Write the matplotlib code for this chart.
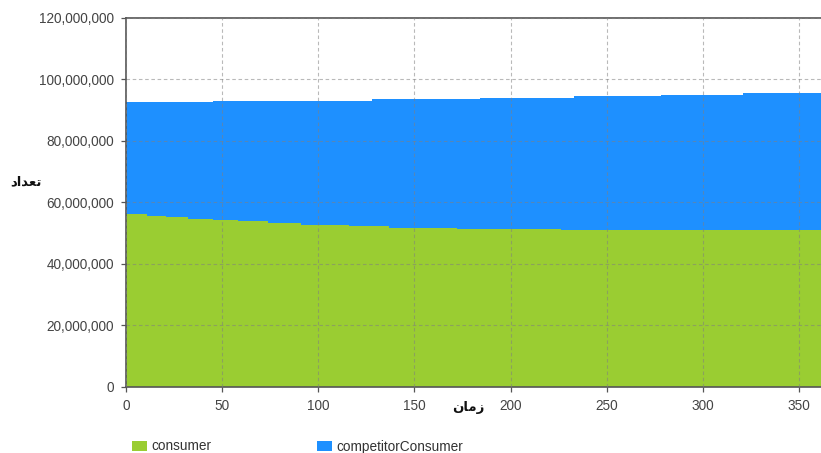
import matplotlib
matplotlib.use('Agg')
import matplotlib.pyplot as plt
from matplotlib.patches import Patch
from matplotlib.ticker import FuncFormatter, MultipleLocator

# ---- data ----
time = [0, 11, 21, 32, 45, 58, 74, 91, 116, 128, 137, 172, 184, 226, 233, 278, 321, 362]
consumer_m = [56.16, 55.61, 55.06, 54.54, 54.08, 53.76, 53.24, 52.68, 52.13, 52.13,
              51.71, 51.28, 51.28, 50.89, 50.89, 50.89, 50.89, 50.89]
competitor_m = [36.30, 36.85, 37.40, 37.92, 38.92, 39.24, 39.76, 40.32, 40.87, 41.43,
                41.85, 42.28, 42.70, 43.09, 43.58, 44.07, 44.61, 44.61]
series_names = ["consumer", "competitorConsumer"]
series_colors = ["#9ACD32", "#1E90FF"]
x_ticks = [0, 50, 100, 150, 200, 250, 300, 350]
y_label = "تعداد"
x_label = "زمان"

consumer = [v * 1e6 for v in consumer_m]
competitor = [v * 1e6 for v in competitor_m]


def shape_arabic(word):
    # visual (left-to-right) presentation forms for the two labels
    table = {
        "تعداد": "\uFEA9\uFE8D\uFEAA\uFECC\uFE97",
        "زمان": "\uFEE5\uFE8E\uFEE3\uFEAF",
    }
    return table.get(word, word)


W, H = 821, 453
fig = plt.figure(figsize=(W / 100, H / 100), dpi=100)
ax_left, ax_top, ax_bottom, ax_right = 126, 17.7, 386.7, 821
ax = fig.add_axes([ax_left / W, 1 - ax_bottom / H,
                   (ax_right - ax_left) / W, (ax_bottom - ax_top) / H])

ax.stackplot(time, consumer, competitor, colors=series_colors,
             labels=series_names, step='post', linewidth=0, edgecolor='none', zorder=1)

ax.set_xlim(0, 361.4)
ax.set_ylim(0, 120e6)
ax.set_xticks(x_ticks)
ax.yaxis.set_major_locator(MultipleLocator(20e6))
ax.yaxis.set_major_formatter(FuncFormatter(lambda v, p: f"{int(round(v)):,}"))

ax.grid(True, color='#808080', alpha=0.55, linestyle=(0, (3.2, 2.4)), linewidth=0.8, zorder=2)
ax.set_axisbelow(False)

for s in ['left', 'bottom', 'top']:
    ax.spines[s].set_color('#555555')
    ax.spines[s].set_linewidth(1.2)
ax.spines['right'].set_visible(False)

tick_font = dict(family=['Liberation Sans', 'DejaVu Sans'], size=9.8)
ax.tick_params(axis='both', direction='out', length=3.5, width=0.9, color='#555555',
               labelcolor='#444444', pad=5)
for lab in ax.get_xticklabels() + ax.get_yticklabels():
    lab.set_fontfamily(tick_font['family'])
    lab.set_fontsize(tick_font['size'])

fig.text(26 / W, 1 - 182 / H, shape_arabic(y_label), ha='center', va='center',
         fontsize=9.5, fontweight='bold', family=['DejaVu Sans'], color='#111111')
fig.text(468 / W, 1 - 407 / H, shape_arabic(x_label), ha='center', va='center',
         fontsize=9.5, fontweight='bold', family=['DejaVu Sans'], color='#111111')

fs = 9.8
fs_px = fs * 100 / 72
legend_x = [131.7, 316.7]
for name, col, lx in zip(series_names, series_colors, legend_x):
    leg = fig.legend(handles=[Patch(facecolor=col, edgecolor='none', label=name)],
                     loc='center left', bbox_to_anchor=(lx / W, 1 - 446.5 / H),
                     frameon=False, borderpad=0, borderaxespad=0,
                     handlelength=15 / fs_px, handleheight=0.75, handletextpad=0.38,
                     prop={'family': ['Liberation Sans', 'DejaVu Sans'], 'size': fs})
    for t in leg.get_texts():
        t.set_color('#333333')

fig.savefig('out.png', dpi=100)
